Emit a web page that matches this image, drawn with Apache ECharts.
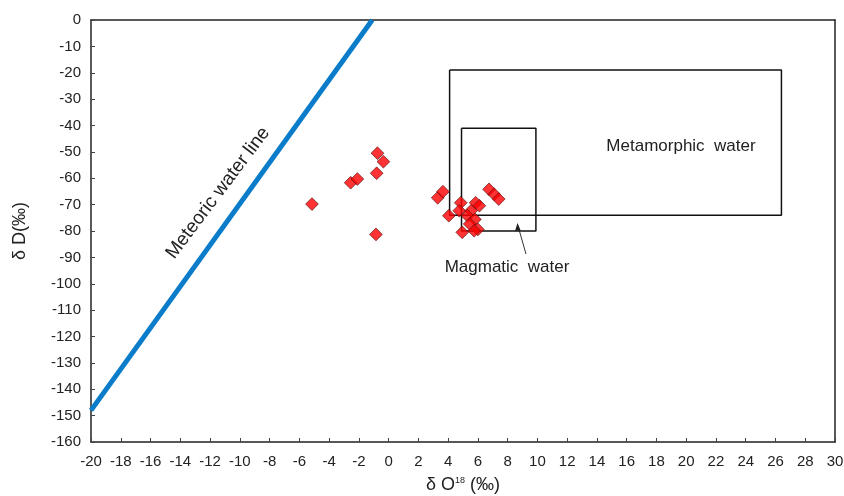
<!DOCTYPE html>
<html>
<head>
<meta http-equiv="Content-Type" content="text/html;charset=utf-8">
<title>dD - d18O</title>
<style type="text/css">
html,body{
	margin: 0;
	padding: 0;
	background-color: #fff;
}
#main {
	width: 844px;
	height: 496px;
}
</style>
</head>
<body>
<div id="main"></div>
<script src="https://cdn.jsdelivr.net/npm/echarts@6/dist/echarts.min.js"></script>
<script type="text/javascript">
// sample points [d18O, dD]
var samples = [
	[-5.15, -69.8], [-2.55, -61.7], [-2.1, -60.3], [-0.75, -50.5], [-0.35, -53.7],
	[-0.8, -58.1], [-0.85, -81.3], [3.3, -67.4], [3.65, -65.1], [4.05, -74.2],
	[4.85, -69.3], [4.75, -72.3], [4.95, -80.5], [5.55, -72.3], [5.85, -69.3],
	[6.1, -70.4], [5.3, -74.2], [5.8, -75.6], [5.45, -77.3], [6.0, -79.4],
	[5.75, -79.9], [6.75, -64.2], [7.1, -66.1], [7.4, -67.9]
];
// meteoric water line end points
var meteoricLine = [[-20, -148], [-1.1, 0]];
// boxes
var metamorphicBox = [[4.1, -19], [26.4, -19], [26.4, -74], [4.1, -74], [4.1, -19]];
var magmaticBox = [[4.9, -41], [9.9, -41], [9.9, -80], [4.9, -80], [4.9, -41]];

var xMin = -20, xMax = 30, xStep = 2;
var yMin = -160, yMax = 0, yStep = 10;

var font = 'Liberation Sans, Arial, sans-serif';

var option = {
	animation: false,
	backgroundColor: '#fff',
	grid: {
		left: 91,
		right: 9,
		top: 20,
		bottom: 54,
		outerBoundsMode: 'none'
	},
	xAxis: [
		{
			type: 'value',
			min: xMin,
			max: xMax,
			interval: xStep,
			name: '{n|δ O}{s|18}{n| (‰)}',
			nameLocation: 'middle',
			nameGap: 34,
			nameTextStyle: {
				rich: {
					n: { fontSize: 18, fontFamily: font, color: '#222' },
					s: { fontSize: 9, fontFamily: font, color: '#222', verticalAlign: 'top', padding: [0, 0, 10, 0] }
				}
			},
			axisLine: { onZero: false, lineStyle: { color: '#222', width: 1.5 } },
			axisTick: { inside: true, length: 4, lineStyle: { color: '#444' } },
			axisLabel: { color: '#222', fontSize: 15, fontFamily: font, margin: 12 },
			splitLine: { show: false }
		},
		{
			type: 'value',
			position: 'top',
			min: xMin,
			max: xMax,
			axisLine: { onZero: false, lineStyle: { color: '#222', width: 1.5 } },
			axisTick: { show: false },
			axisLabel: { show: false },
			splitLine: { show: false }
		}
	],
	yAxis: [
		{
			type: 'value',
			min: yMin,
			max: yMax,
			interval: yStep,
			name: 'δ D(‰)',
			nameLocation: 'middle',
			nameGap: 62,
			nameTextStyle: { fontSize: 18, fontFamily: font, color: '#222' },
			axisLine: { onZero: false, lineStyle: { color: '#222', width: 1.5 } },
			axisTick: { inside: true, length: 4, lineStyle: { color: '#444' } },
			axisLabel: { color: '#222', fontSize: 15, fontFamily: font, margin: 10 },
			splitLine: { show: false }
		},
		{
			type: 'value',
			position: 'right',
			min: yMin,
			max: yMax,
			axisLine: { onZero: false, lineStyle: { color: '#222', width: 1.5 } },
			axisTick: { show: false },
			axisLabel: { show: false },
			splitLine: { show: false }
		}
	],
	series: [
		{
			name: 'Meteoric water line',
			type: 'line',
			data: meteoricLine,
			symbol: 'none',
			lineStyle: { color: '#0a7cc9', width: 5 },
			z: 3
		},
		{
			name: 'Metamorphic water',
			type: 'line',
			data: metamorphicBox,
			symbol: 'none',
			lineStyle: { color: '#111', width: 1.5 },
			z: 2
		},
		{
			name: 'Magmatic water',
			type: 'line',
			data: magmaticBox,
			symbol: 'none',
			lineStyle: { color: '#111', width: 1.5 },
			z: 2
		},
		{
			name: 'samples',
			type: 'scatter',
			data: samples,
			symbol: 'rect',
			symbolRotate: 45,
			symbolSize: 9,
			itemStyle: { color: '#f00', borderColor: '#5a1010', borderWidth: 0.8 },
			z: 5
		}
	],
	graphic: [
		{
			type: 'text',
			x: 218,
			y: 193,
			rotation: 53 * Math.PI / 180,
			style: {
				text: 'Meteoric water line',
				font: '19px ' + font,
				fill: '#222',
				align: 'center',
				verticalAlign: 'middle'
			}
		},
		{
			type: 'text',
			x: 681,
			y: 146,
			style: {
				text: 'Metamorphic  water',
				font: '17px ' + font,
				fill: '#222',
				align: 'center',
				verticalAlign: 'middle'
			}
		},
		{
			type: 'text',
			x: 507,
			y: 267,
			style: {
				text: 'Magmatic  water',
				font: '17px ' + font,
				fill: '#222',
				align: 'center',
				verticalAlign: 'middle'
			}
		},
		{
			type: 'line',
			shape: { x1: 526, y1: 254, x2: 518, y2: 226 },
			style: { stroke: '#333', lineWidth: 1 }
		},
		{
			type: 'polygon',
			shape: { points: [[517.5, 223], [515, 231], [520.5, 230]] },
			style: { fill: '#222' }
		}
	]
};

var myChart = echarts.init(document.getElementById('main'));
myChart.setOption(option);
</script>
</body>
</html>
